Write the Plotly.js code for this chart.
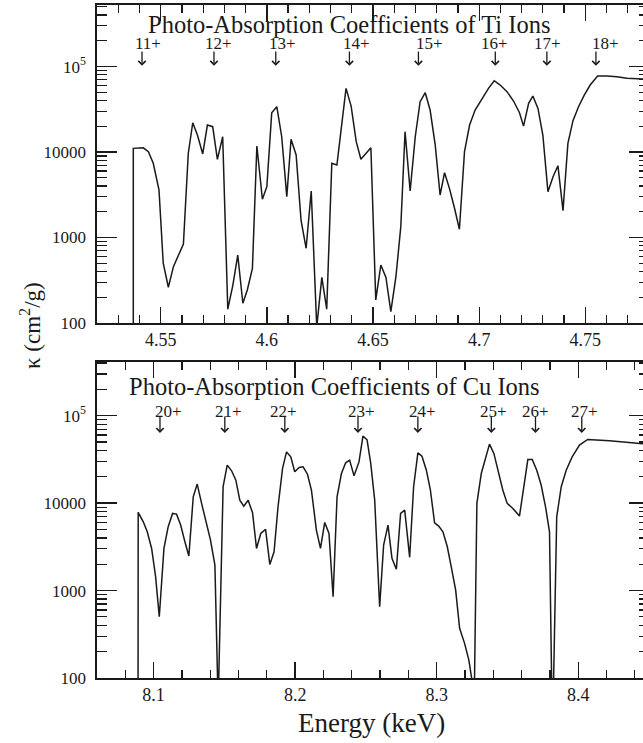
<!DOCTYPE html>
<html>
<head>
<meta charset="utf-8">
<script src="https://cdn.plot.ly/plotly-3.0.1.min.js"></script>
<style>
html,body{margin:0;padding:0;overflow:hidden;background:#fff;}
#plot{width:660px;height:743px;}
</style>
</head>
<body>
<div id="plot"></div>
<script>
// ---- Ti ions (top panel) ----
const tiE = [4.5371, 4.5371, 4.5418, 4.5442, 4.5465, 4.5492, 4.5512, 4.5536, 4.5560, 4.5583, 4.5607, 4.5630, 4.5651, 4.5673, 4.5698, 4.5720, 4.5745, 4.5767, 4.5792, 4.5816, 4.5840, 4.5863, 4.5887, 4.5908, 4.5932, 4.5953, 4.5979, 4.6000, 4.6023, 4.6047, 4.6070, 4.6094, 4.6114, 4.6138, 4.6161, 4.6185, 4.6209, 4.6235, 4.6259, 4.6282, 4.6306, 4.6330, 4.6373, 4.6397, 4.6421, 4.6443, 4.6490, 4.6513, 4.6537, 4.6561, 4.6584, 4.6608, 4.6631, 4.6651, 4.6675, 4.6699, 4.6722, 4.6746, 4.6769, 4.6793, 4.6816, 4.6837, 4.6860, 4.6884, 4.6907, 4.6931, 4.6955, 4.6981, 4.7013, 4.7044, 4.7071, 4.7099, 4.7131, 4.7162, 4.7190, 4.7209, 4.7233, 4.7253, 4.7277, 4.7300, 4.7324, 4.7348, 4.7371, 4.7395, 4.7418, 4.7442, 4.7468, 4.7495, 4.7523, 4.7558, 4.7602, 4.7649, 4.7696, 4.7775, 4.7850];
const tiK = [50, 11040, 11200, 10100, 7380, 3600, 500, 262, 456, 624, 840, 9660, 22000, 15800, 9490, 20700, 19800, 8220, 15100, 145, 278, 624, 170, 243, 436, 11750, 2800, 3930, 28800, 33900, 15100, 3010, 14100, 9230, 1600, 748, 3500, 90, 342, 145, 7380, 7050, 55600, 34500, 13200, 8220, 11200, 186, 477, 342, 136, 348, 1340, 17300, 3500, 15100, 38800, 49400, 31000, 12100, 3140, 5730, 3760, 2200, 1250, 10100, 20700, 31000, 42400, 55600, 68200, 60800, 50800, 39500, 28800, 20100, 37100, 45200, 32400, 15800, 3440, 5140, 6920, 2060, 12600, 23300, 33900, 46400, 60800, 77500, 77500, 76000, 72800, 71400, 70500];
const tiIons = ['11+', '12+', '13+', '14+', '15+', '16+', '17+', '18+'];
const tiArrowE = [4.5412, 4.5751, 4.6042, 4.6389, 4.6714, 4.7076, 4.7319, 4.7550];
const tiLabelE = [4.5440, 4.5772, 4.6074, 4.6421, 4.6766, 4.7073, 4.7321, 4.7594];

// ---- Cu ions (bottom panel) ----
const cuE = [8.0890, 8.0891, 8.0927, 8.0955, 8.0986, 8.1014, 8.1040, 8.1073, 8.1103, 8.1134, 8.1162, 8.1191, 8.1221, 8.1249, 8.1280, 8.1308, 8.1339, 8.1374, 8.1402, 8.1433, 8.1456, 8.1491, 8.1520, 8.1551, 8.1581, 8.1609, 8.1637, 8.1668, 8.1699, 8.1727, 8.1757, 8.1791, 8.1821, 8.1851, 8.1879, 8.1911, 8.1939, 8.1969, 8.1997, 8.2028, 8.2056, 8.2087, 8.2115, 8.2150, 8.2179, 8.2209, 8.2239, 8.2268, 8.2296, 8.2327, 8.2357, 8.2385, 8.2416, 8.2451, 8.2479, 8.2508, 8.2534, 8.2562, 8.2597, 8.2625, 8.2656, 8.2684, 8.2715, 8.2745, 8.2774, 8.2809, 8.2837, 8.2867, 8.2896, 8.2927, 8.2955, 8.2985, 8.3014, 8.3044, 8.3075, 8.3103, 8.3134, 8.3162, 8.3197, 8.3227, 8.3256, 8.3263, 8.3284, 8.3315, 8.3345, 8.3373, 8.3404, 8.3439, 8.3467, 8.3498, 8.3538, 8.3585, 8.3613, 8.3644, 8.3675, 8.3707, 8.3738, 8.3769, 8.3797, 8.3818, 8.3848, 8.3880, 8.3915, 8.3957, 8.4009, 8.4067, 8.4220, 8.4455, 8.4520];
const cuK = [50, 7840, 6110, 4700, 3030, 1440, 502, 3030, 5370, 7620, 7480, 5610, 3610, 2480, 11800, 16500, 9930, 5610, 3780, 1950, 50, 15400, 27200, 23400, 18300, 10800, 9240, 10800, 7750, 3030, 4500, 5000, 1990, 2770, 9080, 24900, 38500, 33800, 22800, 25600, 26000, 21400, 14100, 4910, 3030, 6010, 4500, 851, 11800, 21800, 28900, 31000, 20500, 29600, 58300, 53000, 28400, 10800, 653, 3310, 5610, 2340, 1750, 7620, 8320, 2400, 15400, 37600, 34400, 23800, 14300, 5950, 5460, 4700, 3170, 1870, 1010, 370, 249, 161, 80, 30, 9930, 21800, 31500, 47200, 37000, 22200, 14100, 9930, 8690, 7100, 15400, 31500, 31500, 23800, 16100, 9080, 4700, 20, 6970, 15400, 23800, 33800, 46000, 53400, 51500, 47200, 46800];
const cuIons = ['20+', '21+', '22+', '23+', '24+', '25+', '26+', '27+'];
const cuArrowE = [8.1045, 8.1503, 8.1927, 8.2444, 8.2867, 8.3386, 8.3698, 8.4025];
const cuLabelE = [8.1108, 8.1532, 8.1915, 8.2468, 8.2899, 8.3400, 8.3697, 8.4046];

// ---- axis tick labels ----
const yTickVals = [100, 1000, 10000, 100000];
const yTickText = ['100', '1000', '10000', '10<sup>5</sup>'];

const SERIF = 'Liberation Serif, Times New Roman, serif';
const INK = '#1a1a1a';

const minorY = [];
for (let p = 2; p <= 5; p++) for (let d = 2; d <= 9; d++) minorY.push(d * Math.pow(10, p));

function xAxis(range, dtick, minorD, anchor, showLabels) {
  return {
    anchor: anchor, domain: [0, 1], range: range, dtick: dtick, tick0: 0,
    ticks: 'inside', ticklen: 16, tickwidth: 1.3, tickcolor: INK,
    minor: {dtick: minorD, tick0: 0, ticks: 'inside', ticklen: 8, tickwidth: 1.2, tickcolor: INK},
    showline: true, linecolor: INK, linewidth: 1.6, mirror: 'allticks',
    showgrid: false, zeroline: false, showticklabels: showLabels,
    tickfont: {family: SERIF, size: 18, color: INK}
  };
}
function yAxis(range, domain, anchor) {
  return {
    anchor: anchor, domain: domain, type: 'log', range: range,
    tickmode: 'array', tickvals: yTickVals, ticktext: yTickText,
    ticks: 'inside', ticklen: 20, tickwidth: 1.3, tickcolor: INK,
    minor: {tickmode: 'array', tickvals: minorY, ticks: 'inside', ticklen: 10, tickwidth: 1.2, tickcolor: INK},
    showline: true, linecolor: INK, linewidth: 1.6, mirror: 'allticks',
    showgrid: false, zeroline: false, ticklabelstandoff: 6,
    tickfont: {family: SERIF, size: 17, color: INK}
  };
}

const traces = [
  {x: tiE, y: tiK, xaxis: 'x', yaxis: 'y', mode: 'lines', line: {color: INK, width: 1.5}, hoverinfo: 'skip'},
  {x: cuE, y: cuK, xaxis: 'x2', yaxis: 'y2', mode: 'lines', line: {color: INK, width: 1.5}, hoverinfo: 'skip'}
];

const ann = [];
function ionMarks(ions, arrowE, labelE, xr, yr, tipY, tailY, labY) {
  ions.forEach((t, i) => {
    ann.push({xref: xr, yref: yr, axref: xr, ayref: yr, x: arrowE[i], y: tipY, ax: arrowE[i], ay: tailY,
      text: '', showarrow: true, arrowhead: 4, arrowsize: 1.1, arrowwidth: 1.3, arrowcolor: INK, standoff: 0, startstandoff: 0});
    ann.push({xref: xr, yref: yr, x: labelE[i], y: labY, text: t, showarrow: false,
      xanchor: 'center', yanchor: 'middle', font: {family: SERIF, size: 17, color: INK}});
  });
}
ionMarks(tiIons, tiArrowE, tiLabelE, 'x', 'y', 5.009, 5.193, 5.27);
ionMarks(cuIons, cuArrowE, cuLabelE, 'x2', 'y2', 4.803, 5.006, 5.045);

ann.push({xref: 'paper', yref: 'paper', x: 0.4569, y: 0.9705, text: 'Photo-Absorption Coefficients of Ti Ions',
  showarrow: false, xanchor: 'center', yanchor: 'middle', font: {family: SERIF, size: 24.5, color: INK}});
ann.push({xref: 'paper', yref: 'paper', x: 0.4299, y: 0.4326, text: 'Photo-Absorption Coefficients of Cu Ions',
  showarrow: false, xanchor: 'center', yanchor: 'middle', font: {family: SERIF, size: 24.5, color: INK}});
ann.push({xref: 'paper', yref: 'paper', x: 0.4976, y: -0.0670, text: 'Energy (keV)',
  showarrow: false, xanchor: 'center', yanchor: 'middle', font: {family: SERIF, size: 27, color: INK}});
ann.push({xref: 'paper', yref: 'paper', x: -0.1214, y: 0.5245, text: '\u03ba (cm<sup>2</sup>/g)', textangle: -90,
  showarrow: false, xanchor: 'center', yanchor: 'middle', font: {family: SERIF, size: 23, color: INK}});

const layout = {
  width: 660, height: 743,
  margin: {l: 97, r: 11, t: 5, b: 65, pad: 0},
  paper_bgcolor: '#fff', plot_bgcolor: '#fff',
  showlegend: false,
  xaxis: xAxis([4.52, 4.78], 0.05, 0.01, 'y', true),
  yaxis: yAxis([2, 5.72], [0.5275, 1], 'x'),
  xaxis2: xAxis([8.06, 8.45], 0.1, 0.02, 'y2', true),
  yaxis2: yAxis([2, 5.617], [0, 0.470], 'x2'),
  annotations: ann
};

Plotly.newPlot('plot', traces, layout, {displayModeBar: false, staticPlot: true});
</script>
</body>
</html>
